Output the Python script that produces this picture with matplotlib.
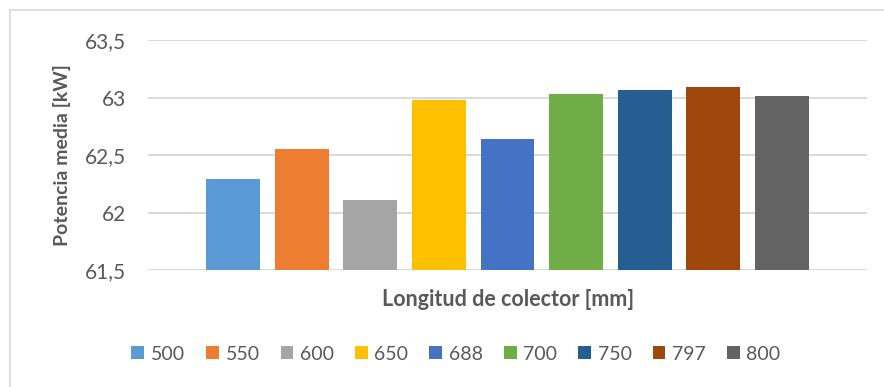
import matplotlib.pyplot as plt
import numpy as np
from matplotlib.lines import Line2D

series = ['500', '550', '600', '650', '688', '700', '750', '797', '800']
values = [62.29, 62.55, 62.11, 62.98, 62.64, 63.03, 63.07, 63.09, 63.01]
colors = ['#5B9BD5', '#ED7D31', '#A5A5A5', '#FFC000', '#4472C4',
          '#70AD47', '#255E91', '#9E480E', '#636363']
yticks = [61.5, 62, 62.5, 63, 63.5]
ytick_labels = ['61,5', '62', '62,5', '63', '63,5']

plt.rcParams['font.family'] = ['Lato', 'DejaVu Sans']
txt = '#595959'

fig = plt.figure(figsize=(8.84, 3.87), dpi=100)
ax = fig.add_axes([148 / 884, 1 - 270.3 / 387, 719 / 884, 230.3 / 387])

step = 0.0953
width = 0.0751
for i, (name, v, c) in enumerate(zip(series, values, colors)):
    ax.bar((i - 4) * step, v - 61.5, bottom=61.5, width=width, color=c, label=name, zorder=3)

ax.set_xlim(-0.5, 0.5)
ax.set_ylim(61.5, 63.5)
ax.set_yticks(yticks)
ax.set_yticklabels(ytick_labels, color=txt, fontsize=15)
ax.set_xticks([])
ax.tick_params(axis='y', length=0, pad=16)
ax.grid(axis='y', color='#D9D9D9', linewidth=1.4, zorder=0)
for s in ax.spines.values():
    s.set_visible(False)

ax.set_ylabel('Potencia media [kW]', color=txt, fontsize=14, fontweight='bold')
ax.yaxis.set_label_coords(-77 / 719, 0.5)
fig.text(508 / 884, 1 - 300 / 387, 'Longitud de colector [mm]', ha='center', va='center',
         color=txt, fontsize=15.5, fontweight='bold')

leg = fig.legend(loc='center', bbox_to_anchor=(456 / 884, 1 - 354 / 387), ncol=9, frameon=False,
                 fontsize=14, handlelength=0.65, handleheight=0.65, handletextpad=0.35,
                 columnspacing=1.08, labelcolor=txt)

# chart border (top and left visible)
fig.add_artist(Line2D([9.5 / 884, 1], [1 - 10 / 387, 1 - 10 / 387], color='#D9D9D9', linewidth=1.2))
fig.add_artist(Line2D([9.5 / 884, 9.5 / 884], [0, 1 - 10 / 387], color='#D9D9D9', linewidth=1.2))

fig.savefig('out.png', dpi=100)
